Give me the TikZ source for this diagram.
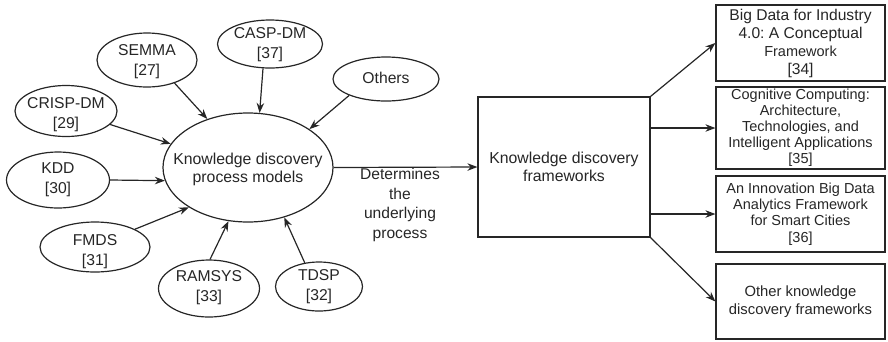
\documentclass[tikz,border=0pt]{standalone}
\usepackage{fontspec}
\setmainfont{Liberation Sans}
\frenchspacing
\usetikzlibrary{shapes.geometric,arrows.meta}
\definecolor{ink}{HTML}{262626}
\begin{document}
\begin{tikzpicture}[x=1pt,y=-1pt,
  every node/.style={text=ink},
  model/.style={ellipse, draw=ink, line width=1.2pt, inner sep=0pt},
  modeltext/.style={align=center, inner sep=0pt, font=\fontsize{15.7}{20}\selectfont},
  frame/.style={rectangle, draw=ink, line width=1.2pt, inner sep=0pt, align=center},
  link/.style={draw=ink, line width=1.2pt, -{Stealth[length=10pt,width=7.5pt]}}
]
\useasboundingbox (0,0) rectangle (888,341);

% central process-model ellipse
\node[model, minimum width=170pt, minimum height=109pt] (kdp) at (248,167.5) {};
\node[modeltext, font=\fontsize{15.8}{18}\selectfont] (kdpt) at (248,169) {Knowledge discovery\\process models};

% surrounding process models
\node[model, minimum width=100pt, minimum height=54pt] (semma) at (147,60) {};
\node[modeltext] (semmat) at (147,62) {SEMMA\\{[27]}};
\node[model, minimum width=105pt, minimum height=48pt] (casp) at (270,44) {};
\node[modeltext] (caspt) at (270,45) {CASP-DM\\{[37]}};
\node[model, minimum width=106pt, minimum height=44pt] (others) at (386,79) {};
\node[modeltext] (otherst) at (386,78) {Others};
\node[model, minimum width=102pt, minimum height=51pt] (crisp) at (66,111) {};
\node[modeltext] (crispt) at (66,115) {CRISP-DM\\{[29]}};
\node[model, minimum width=103pt, minimum height=56pt] (kdd) at (58,180) {};
\node[modeltext] (kddt) at (58,180) {KDD\\{[30]}};
\node[model, minimum width=110pt, minimum height=50pt] (fmds) at (95,247) {};
\node[modeltext] (fmdst) at (95,252) {FMDS\\{[31]}};
\node[model, minimum width=101pt, minimum height=57pt] (ramsys) at (209,288.5) {};
\node[modeltext] (ramsyst) at (209,288) {RAMSYS\\{[33]}};
\node[model, minimum width=87pt, minimum height=49pt] (tdsp) at (319,286.5) {};
\node[modeltext] (tdspt) at (319,286.5) {TDSP\\{[32]}};

% arrows into the central ellipse
\draw[link] (semma.-40) -- (kdp.130);
\draw[link] (casp.-106) -- (kdp.78);
\draw[link] (others.204) -- (kdp.32);
\draw[link] (crisp.-17) -- (kdp.163);
\draw[link] (kdd.0) -- (kdp.189);
\draw[link] (fmds.24) -- (kdp.214);
\draw[link] (ramsys.88) -- (kdp.-110);
\draw[link] (tdsp.121) -- (kdp.-54);

% frameworks box
\node[frame, minimum width=172pt, minimum height=140pt,
      font=\fontsize{15.8}{18.5}\selectfont] (kdf) at (564,167)
      {Knowledge discovery\\frameworks};
\draw[link] (kdp.east) -- (kdf.west);
\node[align=center, inner sep=0pt, font=\fontsize{15.6}{19.4}\selectfont] (lbl) at (400,205)
      {Determines\\the\\underlying\\process};

% framework examples
\node[frame, minimum width=169pt, minimum height=76pt,
      font=\fontsize{15.6}{18}\selectfont] (b1) at (800.5,43)
      {Big Data for Industry\\4.0: A Conceptual\\{\fontsize{14.5}{16}\selectfont Framework}\\{[34]}};
\node[frame, minimum width=169pt, minimum height=82pt,
      font=\fontsize{14.5}{16}\selectfont] (b2) at (800.5,128)
      {Cognitive Computing:\\Architecture,\\Technologies, and\\Intelligent Applications\\{[35]}};
\node[frame, minimum width=169pt, minimum height=76pt,
      font=\fontsize{14.5}{16.3}\selectfont] (b3) at (800.5,214)
      {An Innovation Big Data\\Analytics Framework\\for Smart Cities\\{[36]}};
\node[frame, minimum width=169pt, minimum height=75pt,
      font=\fontsize{14.8}{18.5}\selectfont] (b4) at (800.5,301.5)
      {Other knowledge\\discovery frameworks};

\draw[link] (kdf.north east) -- (b1.west);
\draw[link] (kdf.east |- b2.west) -- (b2.west);
\draw[link] (kdf.east |- b3.west) -- (b3.west);
\draw[link] (kdf.south east) -- (b4.west);
\end{tikzpicture}
\end{document}
